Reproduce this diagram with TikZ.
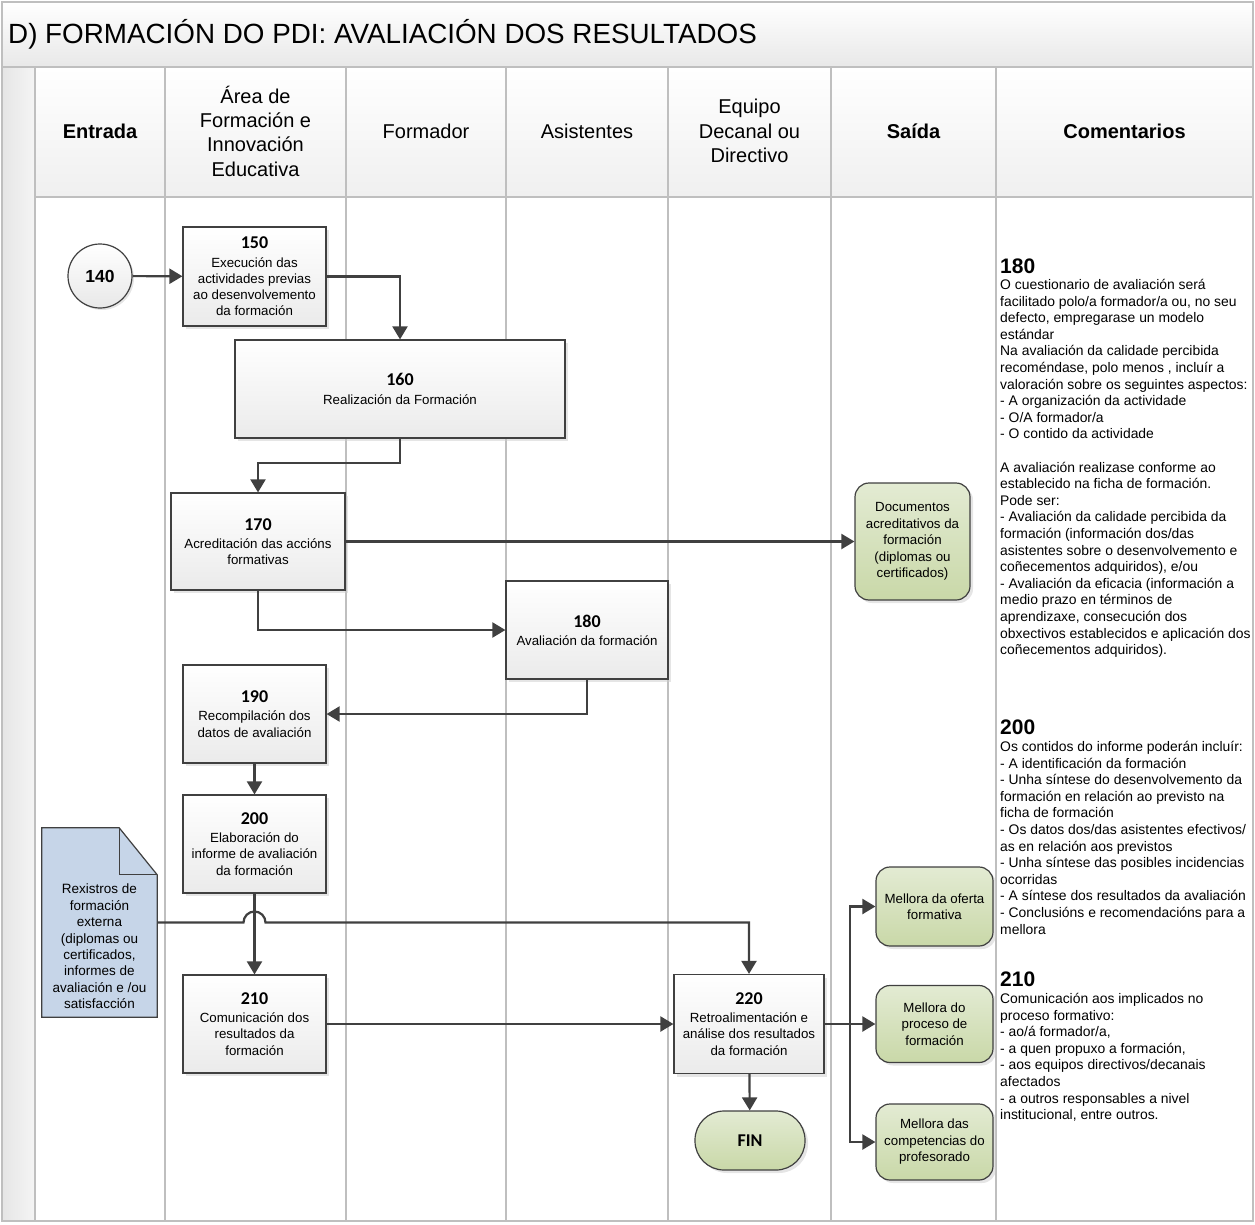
\documentclass[tikz,border=0pt]{standalone}
\usepackage{fontspec}
\setmainfont{Liberation Sans}
\newfontfamily\calibrifont{Carlito}
\usetikzlibrary{arrows.meta}
\usetikzlibrary{shadows}
\usetikzlibrary{calc}

\definecolor{lanegray}{HTML}{BFBFBF}
\definecolor{inkgray}{HTML}{404040}
\definecolor{outgreen}{HTML}{E3EBD3}
\definecolor{outgreendark}{HTML}{C9D8A8}
\definecolor{docblue}{HTML}{C6D5E8}

\tikzset{
  lane/.style={draw=lanegray, line width=2pt},
  flow/.style={draw=inkgray, line width=2.2pt, -{Triangle[length=13pt,width=15pt]}},
  link/.style={draw=inkgray, line width=2.2pt},
  procbox/.style={draw=inkgray, line width=1.2pt, top color=white, bottom color=gray!16,
    align=center, inner sep=2pt,
    drop shadow={shadow xshift=3pt,shadow yshift=-3pt,fill=gray!40,opacity=0.5},
    font=\fontsize{13.3}{16.3}\selectfont},
  outbox/.style={draw=inkgray, line width=1.2pt, rounded corners=14pt,
    top color=outgreen, bottom color=outgreendark, align=center, inner sep=2pt,
    drop shadow={shadow xshift=3pt,shadow yshift=-3pt,fill=gray!40,opacity=0.5},
    font=\fontsize{13.3}{16.5}\selectfont},
  hdr/.style={align=center, font=\fontsize{20}{24.3}\selectfont},
  comm/.style={anchor=north west, align=left, inner sep=0pt, font=\fontsize{13.9}{16.6}\selectfont},
  commnum/.style={anchor=west, inner sep=0pt, font=\bfseries\fontsize{21}{24}\selectfont},
}
\newcommand{\stepnum}[1]{{\calibrifont\bfseries\fontsize{18}{20}\selectfont #1}}

\begin{document}
\begin{tikzpicture}[x=1pt,y=-1pt]
  \useasboundingbox (0,0) rectangle (1255,1225);

  % Frame, title and header row
  \shade[top color=white, bottom color=gray!18] (2,2) rectangle (1253,67);
  \shade[left color=gray!20, right color=gray!8] (2,67) rectangle (35,1221);
  \shade[top color=white, bottom color=gray!12] (35,67) rectangle (1253,197);
  \node[anchor=west, inner sep=0pt, font=\fontsize{27.8}{30}\selectfont] (title) at (8,34)
    {D) FORMACIÓN DO PDI: AVALIACIÓN DOS RESULTADOS};

  % Lanes
  \foreach \lx in {35,165,346,506,668,831,996}{%
    \draw[lane] (\lx,67) -- (\lx,1221);
  }
  \draw[lane] (2,67) -- (1253,67);
  \draw[lane] (35,197) -- (1253,197);
  \draw[lane] (2,2) rectangle (1253,1221);

  % Lane labels
  \foreach \cx/\lbl in {100/{\bfseries Entrada},
                        255.5/{Área de\\Formación e\\Innovación\\Educativa},
                        426/{Formador},
                        587/{Asistentes},
                        749.5/{Equipo\\Decanal ou\\Directivo},
                        913.5/{\bfseries Saída},
                        1124.5/{\bfseries Comentarios}}{%
    \node[hdr] at (\cx,131) {\lbl};
  }

  % Steps
  \node[circle, draw=inkgray, line width=1.2pt, top color=white, bottom color=gray!18,
        minimum size=64pt, inner sep=0pt, font=\bfseries\fontsize{17.5}{20}\selectfont,
        drop shadow={shadow xshift=2pt,shadow yshift=-2pt,fill=gray!40,opacity=0.5}]
        (n140) at (100,276) {140};
  \node[procbox, minimum width=143pt, minimum height=99pt] (n150) at (254.5,276.5)
    {\stepnum{150}\\[2pt]Execución das\\actividades previas\\ao desenvolvemento\\da formación};
  \node[procbox, minimum width=330pt, minimum height=98pt] (n160) at (400,389)
    {\stepnum{160}\\[2pt]Realización da Formación};
  \node[procbox, minimum width=174pt, minimum height=97pt] (n170) at (258,541.5)
    {\stepnum{170}\\[2pt]Acreditación das accións\\formativas};
  \node[procbox, minimum width=162pt, minimum height=98pt] (n180) at (587,630)
    {\stepnum{180}\\[2pt]Avaliación da formación};
  \node[procbox, minimum width=143pt, minimum height=98pt] (n190) at (254.5,714)
    {\stepnum{190}\\[2pt]Recompilación dos\\datos de avaliación};
  \node[procbox, minimum width=143pt, minimum height=98pt] (n200) at (254.5,844)
    {\stepnum{200}\\[2pt]Elaboración do\\informe de avaliación\\da formación};
  \node[procbox, minimum width=143pt, minimum height=98pt] (n210) at (254.5,1024)
    {\stepnum{210}\\[2pt]Comunicación dos\\resultados da\\formación};
  \node[procbox, minimum width=150pt, minimum height=99pt] (n220) at (749,1024)
    {\stepnum{220}\\[2pt]Retroalimentación e\\análise dos resultados\\da formación};
  \node[outbox, rounded corners=29pt, minimum width=110pt, minimum height=59pt] (fin) at (750,1140.5)
    {\stepnum{FIN}};

  % Outputs
  \node[outbox, minimum width=115pt, minimum height=117pt] (docs) at (912.5,541.5)
    {Documentos\\acreditativos da\\formación\\(diplomas ou\\certificados)};
  \node[outbox, minimum width=117pt, minimum height=79pt] (mel1) at (934.5,906.5)
    {Mellora da oferta\\formativa};
  \node[outbox, minimum width=117pt, minimum height=77pt] (mel2) at (934.5,1024)
    {Mellora do\\proceso de\\formación};
  \node[outbox, minimum width=117pt, minimum height=76pt] (mel3) at (934.5,1142)
    {Mellora das\\competencias do\\profesorado};

  % External records (document shape)
  \node[minimum width=115pt, minimum height=189pt, inner sep=0pt] (rex) at (99.5,922.5) {};
  \draw[draw=inkgray, line width=1.2pt, fill=docblue]
    (rex.south west) -- (rex.north west) -- ($(rex.north east)+(-38,0)$)
    -- ($(rex.north east)+(0,47)$) -- (rex.south east) -- cycle;
  \draw[draw=inkgray, line width=1.2pt]
    ($(rex.north east)+(-38,0)$) -- ($(rex.north east)+(-38,47)$) -- ($(rex.north east)+(0,47)$);
  \node[align=center, font=\fontsize{13.5}{16.4}\selectfont] (rextext) at ($(rex.center)+(0,24)$)
    {Rexistros de\\formación\\externa\\(diplomas ou\\certificados,\\informes de\\avaliación e /ou\\satisfacción};

  % Connectors
  \draw[flow] (n140) -- (n150);
  \draw[flow] (n150.east) -| (n160.north);
  \draw[flow] (n160.south) -- ++(0,24) -| (n170.north);
  \draw[flow] (n170.east) -- (n170.east -| docs.west);
  \draw[flow] (n170.south) |- (n180.west);
  \draw[flow] (n180.south) |- (n190.east);
  \draw[flow] (n190) -- (n200);
  \draw[flow] (n200) -- (n210);
  \draw[flow] (n210) -- (n220);
  \draw[flow] (n220) -- (fin);
  % line jump over the 200 -> 210 connector
  \coordinate (jump) at ($(n200.south |- rex.east)+(-11,0)$);
  \draw[flow] (rex.east) -- (jump) arc[start angle=180, end angle=0, radius=11pt]
    -- (n220.north |- rex.east) -- (n220.north);
  \coordinate (fork) at ($(n220.east)+(25,0)$);
  \draw[flow] (n220.east) -- (mel2.west);
  \draw[flow] (fork) |- (mel1.west);
  \draw[flow] (fork) |- (mel3.west);

  % Comments
  \node[commnum] (c180) at (1000,266) {180};
  \node[comm] (t180) at (1000,279) {O cuestionario de avaliación será\\
    facilitado polo/a formador/a ou, no seu\\
    defecto, empregarase un modelo\\
    estándar\\
    Na avaliación da calidade percibida\\
    recoméndase, polo menos , incluír a\\
    valoración sobre os seguintes aspectos:\\
    - A organización da actividade\\
    - O/A formador/a\\
    - O contido da actividade\\[16.6pt]
    A avaliación realizase conforme ao\\
    establecido na ficha de formación.\\
    Pode ser:\\
    - Avaliación da calidade percibida da\\
    formación (información dos/das\\
    asistentes sobre o desenvolvemento e\\
    coñecementos adquiridos), e/ou\\
    - Avaliación da eficacia (información a\\
    medio prazo en términos de\\
    aprendizaxe, consecución dos\\
    obxectivos establecidos e aplicación dos\\
    coñecementos adquiridos).};
  \node[commnum] (c200) at (1000,727) {200};
  \node[comm] (t200) at (1000,741) {Os contidos do informe poderán incluír:\\
    - A identificación da formación\\
    - Unha síntese do desenvolvemento da\\
    formación en relación ao previsto na\\
    ficha de formación\\
    - Os datos dos/das asistentes efectivos/\\
    as en relación aos previstos\\
    - Unha síntese das posibles incidencias\\
    ocorridas\\
    - A síntese dos resultados da avaliación\\
    - Conclusións e recomendacións para a\\
    mellora};
  \node[commnum] (c210) at (1000,979) {210};
  \node[comm] (t210) at (1000,993) {Comunicación aos implicados no\\
    proceso formativo:\\
    - ao/á formador/a,\\
    - a quen propuxo a formación,\\
    - aos equipos directivos/decanais\\
    afectados\\
    - a outros responsables a nivel\\
    institucional, entre outros.};
\end{tikzpicture}
\end{document}
